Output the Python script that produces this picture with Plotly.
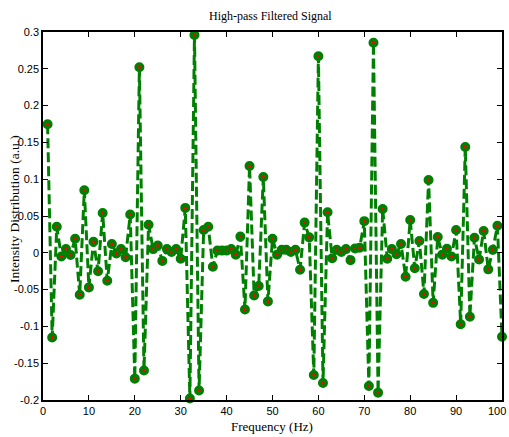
import plotly.graph_objects as go

freq = list(range(1, 101))
intensity = [
    0.1746, -0.115, 0.0355, -0.005, 0.005, -0.003, 0.019, -0.057, 0.085, -0.047,
    0.015, -0.025, 0.054, -0.038, 0.012, -0.001, 0.005, -0.006, 0.052, -0.171,
    0.252, -0.160, 0.038, 0.005, 0.010, -0.011, 0.005, 0.001, 0.005, -0.008,
    0.061, -0.198, 0.296, -0.187, 0.031, 0.0355, -0.019, 0.003, 0.003, 0.003,
    0.005, -0.0025, 0.022, -0.077, 0.118, -0.058, -0.045, 0.103, -0.066, 0.019,
    -0.0025, 0.004, 0.004, 0.001, 0.004, -0.023, 0.041, 0.021, -0.166, 0.267,
    -0.177, 0.055, -0.0075, 0.004, 0.001, 0.005, -0.010, 0.006, 0.007, 0.043,
    -0.181, 0.2855, -0.190, 0.0595, -0.008, 0.005, -0.002, 0.012, -0.0325, 0.0445,
    -0.021, 0.016, -0.056, 0.099, -0.068, 0.0215, -0.0025, 0.0056, -0.005, 0.031,
    -0.097, 0.1437, -0.087, 0.0205, -0.009, 0.0296, -0.0225, 0.004, 0.0368, -0.114,
]

x_ticks = [0, 10, 20, 30, 40, 50, 60, 70, 80, 90, 100]
x_tick_text = ["0", "10", "20", "30", "40", "50", "60", "70", "80", "90", "100"]
y_ticks = [-0.2, -0.15, -0.1, -0.05, 0, 0.05, 0.1, 0.15, 0.2, 0.25, 0.3]
y_tick_text = ["-0.2", "-0.15", "-0.1", "-0.05", "0", "0.05", "0.1", "0.15", "0.2", "0.25", "0.3"]

title_text = "High-pass Filtered Signal"
x_title = "Frequency (Hz)"
y_title = "Intensity Distribution (a.u.)"

fig = go.Figure()
fig.add_trace(go.Scatter(
    x=freq, y=intensity, mode="lines+markers",
    line=dict(color="#008000", width=3, dash="10px,4px"),
    marker=dict(color="#ff0000", size=6.5, line=dict(color="#008000", width=3.5)),
    showlegend=False, cliponaxis=False,
))

serif = "Liberation Serif, Times New Roman, serif"
tick_font = dict(family="Liberation Sans Narrow, Arial Narrow, Liberation Sans, Arial", size=11, color="#000")
L, R, T, B = 43, 7, 32, 37
W, H = 509, 437
# the last x tick label sits at the figure's right edge: draw it as a right-anchored annotation
axis_x_text = x_tick_text[:-1] + [""]
fig.update_layout(
    width=W, height=H,
    margin=dict(l=L, r=R, t=T, b=B, autoexpand=False),
    paper_bgcolor="white", plot_bgcolor="white",
    xaxis=dict(range=[0, 100], tickvals=x_ticks, ticktext=axis_x_text, ticks="inside", ticklen=5,
               tickcolor="#000", showline=True, linecolor="#000", linewidth=1.5, mirror="ticks",
               showgrid=False, zeroline=False, tickfont=tick_font, automargin=False,
               ticklabeloverflow="allow"),
    yaxis=dict(range=[-0.2, 0.3], tickvals=y_ticks, ticktext=y_tick_text, ticks="inside", ticklen=5,
               tickcolor="#000", showline=True, linecolor="#000", linewidth=1.5, mirror="ticks",
               showgrid=False, zeroline=False, tickfont=tick_font, automargin=False,
               ticklabeloverflow="allow"),
    annotations=[
        dict(text=x_tick_text[-1], xref="x", yref="paper", x=x_ticks[-1], y=0, yshift=-3,
             xanchor="right", yanchor="top", xshift=6, showarrow=False, font=tick_font),
        dict(text=title_text, xref="paper", yref="paper", x=(270 - L) / (W - L - R),
             y=1 + (T - 16) / (H - T - B), showarrow=False, xanchor="center", yanchor="middle",
             font=dict(family=serif, size=12, color="#000")),
        dict(text=x_title, xref="paper", yref="paper", x=(272 - L) / (W - L - R),
             y=-(426 - (H - B)) / (H - T - B), showarrow=False, xanchor="center", yanchor="middle",
             font=dict(family=serif, size=13, color="#000")),
        dict(text=y_title, xref="paper", yref="paper", x=-(L - 14) / (W - L - R),
             y=(H - B - 209) / (H - T - B), showarrow=False, xanchor="center", yanchor="middle",
             textangle=-90, font=dict(family=serif, size=13.5, color="#000")),
    ],
)

fig.write_html("out.html", config={"displayModeBar": False},
               post_script="document.body.style.margin='0';document.body.style.padding='0';")
